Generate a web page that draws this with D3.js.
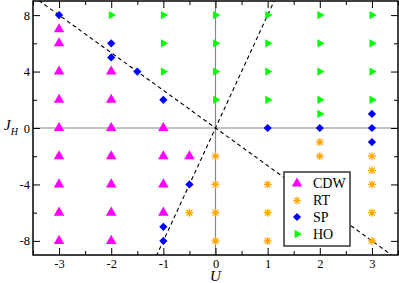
<html>
<head>
<meta charset="utf-8">
<script src="https://cdn.jsdelivr.net/npm/d3@7"></script>
<style>
  body { margin: 0; background: #fff; }
  text { font-family: "Liberation Serif", "DejaVu Serif", serif; fill: #000; }
  .tick line { stroke: #000; stroke-width: 1; }
</style>
</head>
<body>
<script>
// phase points [U, J_H]
var cdw = [[-3,7],[-3,6],[-3,4],[-3,2],[-3,0],[-3,-2],[-3,-4],[-3,-6],[-3,-8],
           [-2,4],[-2,2],[-2,0],[-2,-2],[-2,-4],[-2,-6],[-2,-8],
           [-1,0],[-1,-2],[-1,-4],[-1,-6],[-0.5,-2]];
var rt  = [[-0.5,-6],[0,-2],[0,-4],[0,-6],[0,-8],[1,-4],[1,-6],[1,-8],
           [2,-1],[2,-2],[2,-4],[2,-6],[2,-8],
           [3,-2],[3,-3],[3,-4],[3,-6],[3,-8]];
var sp  = [[-3,8],[-2,6],[-2,5],[-1.5,4],[-1,2],[-1,-7],[-1,-8],[-0.5,-4],
           [1,0],[2,0],[3,1],[3,0],[3,-1]];
var ho  = [[-2,8],[-1,8],[-1,6],[-1,4],[0,8],[0,6],[0,4],[0,2],
           [1,8],[1,6],[1,4],[1,2],[2,8],[2,6],[2,4],[2,2],[2,1],
           [3,8],[3,6],[3,4],[3,2]];
// dashed boundaries J = k*U
var slopes = [-8/3, 8];
var xTicks = [-3,-2,-1,0,1,2,3];
var yTicks = [-8,-4,0,4,8];
var legendNames = ["CDW","RT","SP","HO"];

var W = 399, H = 283;
var mLeft = 33, mRight = 398, mTop = 1, mBottom = 255;

var x = d3.scaleLinear().domain([-3.5,3.5]).range([mLeft,mRight]);
var y = d3.scaleLinear().domain([-9,9]).range([mBottom,mTop]);

var svg = d3.select("body").append("svg").attr("width",W).attr("height",H);

// zero lines
svg.append("line").attr("x1",x(0)).attr("x2",x(0)).attr("y1",mTop).attr("y2",mBottom)
   .attr("stroke","#888").attr("stroke-width",1.2);
svg.append("line").attr("x1",mLeft).attr("x2",mRight).attr("y1",y(0)).attr("y2",y(0))
   .attr("stroke","#888").attr("stroke-width",1.2);

// clip for dashed lines
svg.append("clipPath").attr("id","clip").append("rect")
   .attr("x",mLeft).attr("y",mTop).attr("width",mRight-mLeft).attr("height",mBottom-mTop);

slopes.forEach(function(k){
  svg.append("line")
     .attr("clip-path","url(#clip)")
     .attr("x1",x(-3.5)).attr("y1",y(-3.5*k))
     .attr("x2",x(3.5)).attr("y2",y(3.5*k))
     .attr("stroke","#000").attr("stroke-width",1.1)
     .attr("stroke-dasharray","4,3");
});

// axes
var minorX = [-3.5,-2.5,-1.5,-0.5,0.5,1.5,2.5,3.5];
var minorY = [-6,-2,2,6];
var fmt = function(d){ return String(d); };

function addAxis(axis, tr){
  var g = svg.append("g").attr("transform",tr).call(axis);
  g.select(".domain").remove();
  return g;
}
addAxis(d3.axisBottom(x).tickValues(xTicks).tickSize(-7).tickPadding(4.5).tickFormat(fmt),
        "translate(0,"+mBottom+")").selectAll("text").style("font-size","12.5px");
addAxis(d3.axisBottom(x).tickValues(minorX).tickSize(-4).tickFormat(""), "translate(0,"+mBottom+")");
addAxis(d3.axisTop(x).tickValues(xTicks).tickSize(-7).tickFormat(""), "translate(0,"+mTop+")");
addAxis(d3.axisTop(x).tickValues(minorX).tickSize(-4).tickFormat(""), "translate(0,"+mTop+")");
addAxis(d3.axisLeft(y).tickValues(yTicks).tickSize(-7).tickPadding(3).tickFormat(fmt),
        "translate("+mLeft+",0)").selectAll("text").style("font-size","12.5px");
addAxis(d3.axisLeft(y).tickValues(minorY).tickSize(-4).tickFormat(""), "translate("+mLeft+",0)");
addAxis(d3.axisRight(y).tickValues(yTicks).tickSize(-7).tickFormat(""), "translate("+mRight+",0)");
addAxis(d3.axisRight(y).tickValues(minorY).tickSize(-4).tickFormat(""), "translate("+mRight+",0)");

svg.selectAll(".tick text").attr("fill","#000");

// frame
svg.append("rect").attr("x",mLeft).attr("y",mTop).attr("width",mRight-mLeft).attr("height",mBottom-mTop)
   .attr("fill","none").attr("stroke","#000").attr("stroke-width",1.5);

// markers
var triUp = d3.symbol().type(d3.symbolTriangle).size(48)();
var diamond = d3.symbol().type(d3.symbolSquare).size(34)();
var triRight = d3.symbol().type(d3.symbolTriangle).size(30)();
var star = "M-4,0H4M0,-4V4M-2.9,-2.9L2.9,2.9M-2.9,2.9L2.9,-2.9";

var styles = {
  CDW: {path: triUp, fill: "#ff00ff", rot: 0},
  RT:  {path: star, fill: "none", stroke: "#ffa500", rot: 0},
  SP:  {path: diamond, fill: "#0000ff", rot: 45},
  HO:  {path: triRight, fill: "#00ff00", rot: 90}
};

function drawSeries(data, s){
  svg.append("g").selectAll("path").data(data).enter().append("path")
     .attr("d", s.path)
     .attr("transform", function(d){ return "translate("+x(d[0])+","+y(d[1])+") rotate("+s.rot+")"; })
     .attr("fill", s.fill)
     .attr("stroke", s.stroke || "none")
     .attr("stroke-width", 1.2);
}
drawSeries(cdw, styles.CDW);
drawSeries(rt, styles.RT);
drawSeries(sp, styles.SP);
drawSeries(ho, styles.HO);

// axis labels
svg.append("text").attr("x",x(0)).attr("y",281).attr("text-anchor","middle")
   .style("font-size","15px").style("font-style","italic").text("U");
var jl = svg.append("text").attr("x",4).attr("y",130)
   .style("font-size","15px").style("font-style","italic");
jl.append("tspan").text("J");
jl.append("tspan").attr("dy",5).style("font-size","10px").text("H");

// legend
var lg = svg.append("g");
lg.append("rect").attr("x",284).attr("y",172).attr("width",66).attr("height",74)
  .attr("fill","#fff").attr("stroke","#333").attr("stroke-width",1.5);
var ly = [183.5, 200.5, 217, 234];
legendNames.forEach(function(n,i){
  var s = styles[n];
  lg.append("path").attr("d", s.path)
    .attr("transform","translate(297,"+ly[i]+") rotate("+s.rot+")")
    .attr("fill", s.fill).attr("stroke", s.stroke || "none").attr("stroke-width",1.2);
  lg.append("text").attr("x",313).attr("y",ly[i]).attr("dy","0.35em")
    .style("font-size","14px").text(n);
});
</script>
</body>
</html>
